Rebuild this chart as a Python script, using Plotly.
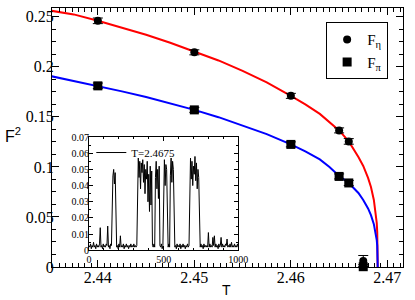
import plotly.graph_objects as go

# ---------------- data ----------------
T_pts = [2.44, 2.45, 2.46, 2.465, 2.466, 2.4675]
F_eta = [0.246, 0.2145, 0.171, 0.1365, 0.1255, 0.006]
F_eta_err = [0.0028, 0.0025, 0.0025, 0.0025, 0.0028, 0.0055]
F_pi = [0.181, 0.157, 0.1225, 0.0905, 0.084, 0.0003]
F_pi_err = [0.0028, 0.0025, 0.0025, 0.0025, 0.0025, 0.002]

T_fit = [2.4352, 2.4375, 2.44, 2.4425, 2.445, 2.4475, 2.45, 2.4525, 2.455,
         2.4575, 2.46, 2.4615, 2.463, 2.464, 2.465, 2.4655, 2.466, 2.467,
         2.4675, 2.468, 2.4683, 2.4686, 2.4688, 2.4689, 2.46895, 2.46898,
         2.46899, 2.469]
F_eta_fit = [0.256, 0.2524, 0.246, 0.2392, 0.232, 0.2241, 0.2155, 0.2064, 0.196,
             0.1845, 0.171, 0.1625, 0.153, 0.1445, 0.1365, 0.131, 0.1255, 0.110,
             0.101, 0.089, 0.080, 0.067, 0.054, 0.044, 0.035, 0.026,
             0.021, 0.0]
F_pi_fit = [0.1906, 0.186, 0.181, 0.1755, 0.1699, 0.1638, 0.157, 0.1497, 0.1416,
            0.1328, 0.1225, 0.1155, 0.1075, 0.1000, 0.0910, 0.0875, 0.0840, 0.0740,
            0.0670, 0.0585, 0.0518, 0.0428, 0.0338, 0.0268, 0.0212, 0.0156,
            0.0123, 0.0]

inset_t = list(range(0, 1001, 5))
inset_v = [
    # 0 - 150
    0.003, 0.002, 0.004, 0.001, 0.003, 0.002, 0.005, 0.002, 0.003, 0.001,
    0.004, 0.002, 0.003, 0.002, 0.004, 0.014, 0.002, 0.003, 0.001, 0.004,
    0.002, 0.003, 0.002, 0.004, 0.003, 0.015, 0.002, 0.003, 0.001, 0.004,
    0.003,
    # 155 - 180
    0.030, 0.046, 0.050, 0.041, 0.048, 0.004,
    # 185 - 320
    0.002, 0.003, 0.001, 0.004, 0.002, 0.009, 0.002, 0.003, 0.002, 0.004,
    0.001, 0.003, 0.002, 0.004, 0.002, 0.003, 0.001, 0.003, 0.002, 0.004,
    0.002, 0.003, 0.002, 0.004, 0.002, 0.003, 0.002, 0.003,
    # 325 - 425
    0.052, 0.057, 0.045, 0.055, 0.038, 0.054, 0.048, 0.056, 0.042, 0.053,
    0.035, 0.050, 0.044, 0.055, 0.030, 0.047, 0.024, 0.052, 0.028, 0.049,
    0.003,
    # 430 - 440
    0.002, 0.004, 0.002,
    # 445 - 475
    0.045, 0.055, 0.038, 0.050, 0.032, 0.052, 0.003,
    # 480 - 495
    0.002, 0.004, 0.001, 0.003,
    # 500 - 520
    0.048, 0.056, 0.040, 0.053, 0.050,
    # 525 - 540
    0.003, 0.002, 0.004, 0.002,
    # 545 - 570
    0.046, 0.057, 0.042, 0.055, 0.050, 0.003,
    # 575 - 670
    0.002, 0.003, 0.001, 0.004, 0.002, 0.003, 0.002, 0.004, 0.001, 0.003,
    0.002, 0.004, 0.002, 0.003, 0.001, 0.003, 0.002, 0.004, 0.002, 0.003,
    # 675 - 740
    0.050, 0.057, 0.044, 0.055, 0.040, 0.052, 0.047, 0.058, 0.043, 0.054,
    0.038, 0.050, 0.045, 0.003,
    # 745 - 1000
    0.002, 0.004, 0.002, 0.003, 0.001, 0.004, 0.002, 0.003, 0.002, 0.003,
    0.002, 0.011, 0.002, 0.004, 0.002, 0.003, 0.002, 0.008, 0.003, 0.009,
    0.002, 0.004, 0.002, 0.003, 0.001, 0.004, 0.002, 0.003, 0.008, 0.002,
    0.004, 0.002, 0.003, 0.002, 0.004, 0.003, 0.007, 0.002, 0.003, 0.002,
    0.004, 0.002, 0.005, 0.002, 0.003, 0.002, 0.004, 0.002, 0.003, 0.002,
    0.004, 0.002,
]
inset_v = inset_v[:len(inset_t)] + [0.002] * (len(inset_t) - len(inset_v))

x_ticks = [2.44, 2.45, 2.46, 2.47]
x_ticktext = ["2.44", "2.45", "2.46", "2.47"]
y_ticks = [0, 0.05, 0.1, 0.15, 0.2, 0.25]
y_ticktext = ["0", "0.05", "0.1", "0.15", "0.2", "0.25"]
inset_yticks = [0, 0.01, 0.02, 0.03, 0.04, 0.05, 0.06, 0.07]
inset_yticktext = ["0", "0.01", "0.02", "0.03", "0.04", "0.05", "0.06", "0.07"]
inset_xticks = [0, 500, 1000]

# ---------------- figure ----------------
SERIF = "Liberation Serif"
SANS = "Liberation Sans"

fig = go.Figure()

fig.add_trace(go.Scatter(x=T_fit, y=F_eta_fit, mode="lines",
                         line=dict(color="#ff0000", width=2), showlegend=False))
fig.add_trace(go.Scatter(x=T_fit, y=F_pi_fit, mode="lines",
                         line=dict(color="#0000ff", width=2), showlegend=False))

fig.add_trace(go.Scatter(
    x=T_pts, y=F_eta, mode="markers", name="F<sub>η</sub>",
    marker=dict(symbol="circle", size=8, color="black"),
    error_y=dict(type="data", array=F_eta_err, color="black", thickness=1, width=5),
    cliponaxis=False, legend="legend"))
fig.add_trace(go.Scatter(
    x=T_pts, y=F_pi, mode="markers", name="F<sub>π</sub>",
    marker=dict(symbol="square", size=9, color="black"),
    error_y=dict(type="data", array=F_pi_err, color="black", thickness=1, width=5),
    cliponaxis=False, legend="legend"))

fig.add_trace(go.Scatter(
    x=inset_t, y=inset_v, mode="lines", name="T=2.4675",
    line=dict(color="black", width=1), xaxis="x2", yaxis="y2", legend="legend2"))

axis_common = dict(showgrid=False, zeroline=False, showline=True, linecolor="black",
                   linewidth=1, mirror="ticks", ticks="inside", tickcolor="black",
                   tickwidth=1)

fig.update_layout(
    width=415, height=300,
    margin=dict(l=52, r=3, t=2, b=33),
    paper_bgcolor="white", plot_bgcolor="white",
    xaxis=dict(range=[2.43525, 2.47162], tickvals=x_ticks, ticktext=x_ticktext,
               ticklen=7, tickfont=dict(family=SERIF, size=16, color="black"),
               ticklabelstandoff=-4,
               minor=dict(dtick=0.01 / 15, tick0=2.44, ticklen=4, ticks="inside",
                          tickcolor="black"),
               **axis_common),
    yaxis=dict(range=[0, 0.2588], tickvals=y_ticks, ticktext=y_ticktext,
               ticklen=7, tickfont=dict(family=SERIF, size=16, color="black"),
               ticklabelstandoff=-6,
               minor=dict(dtick=0.0125, tick0=0, ticklen=4, ticks="inside",
                          tickcolor="black"),
               **axis_common),
    xaxis2=dict(domain=[0.1056, 0.5306], anchor="y2", range=[0, 1000],
                tickvals=inset_xticks, ticklen=4,
                tickfont=dict(family=SERIF, size=10, color="black"),
                minor=dict(dtick=100, ticklen=2, ticks="inside", tickcolor="black"),
                **axis_common),
    yaxis2=dict(domain=[0.0642, 0.5019], anchor="x2", range=[0, 0.07],
                tickvals=inset_yticks, ticktext=inset_yticktext, ticklen=4,
                tickfont=dict(family=SERIF, size=10, color="black"),
                ticklabelstandoff=-3,
                minor=dict(dtick=0.005, ticklen=2, ticks="inside", tickcolor="black"),
                **axis_common),
    legend=dict(x=0.781, y=0.945, xanchor="left", yanchor="top",
                bgcolor="white", bordercolor="black", borderwidth=1,
                font=dict(family=SERIF, size=15, color="black"),
                itemwidth=30, tracegroupgap=0),
    legend2=dict(x=0.112, y=0.498, xanchor="left", yanchor="top",
                 bgcolor="rgba(0,0,0,0)", borderwidth=0,
                 font=dict(family=SERIF, size=11, color="black"),
                 itemwidth=30),
    annotations=[
        dict(text="T", x=0.497, y=-0.0906, xref="paper", yref="paper",
             showarrow=False, font=dict(family=SANS, size=14, color="black"),
             xanchor="center", yanchor="middle"),
        dict(text="F<sup>2</sup>", x=-0.111, y=0.51, xref="paper", yref="paper",
             showarrow=False, font=dict(family=SANS, size=16, color="black"),
             xanchor="center", yanchor="middle"),
    ],
)

fig.write_html("out.html",
               config={"displayModeBar": False},
               post_script="document.body.style.margin='0';document.body.style.overflow='hidden';")
